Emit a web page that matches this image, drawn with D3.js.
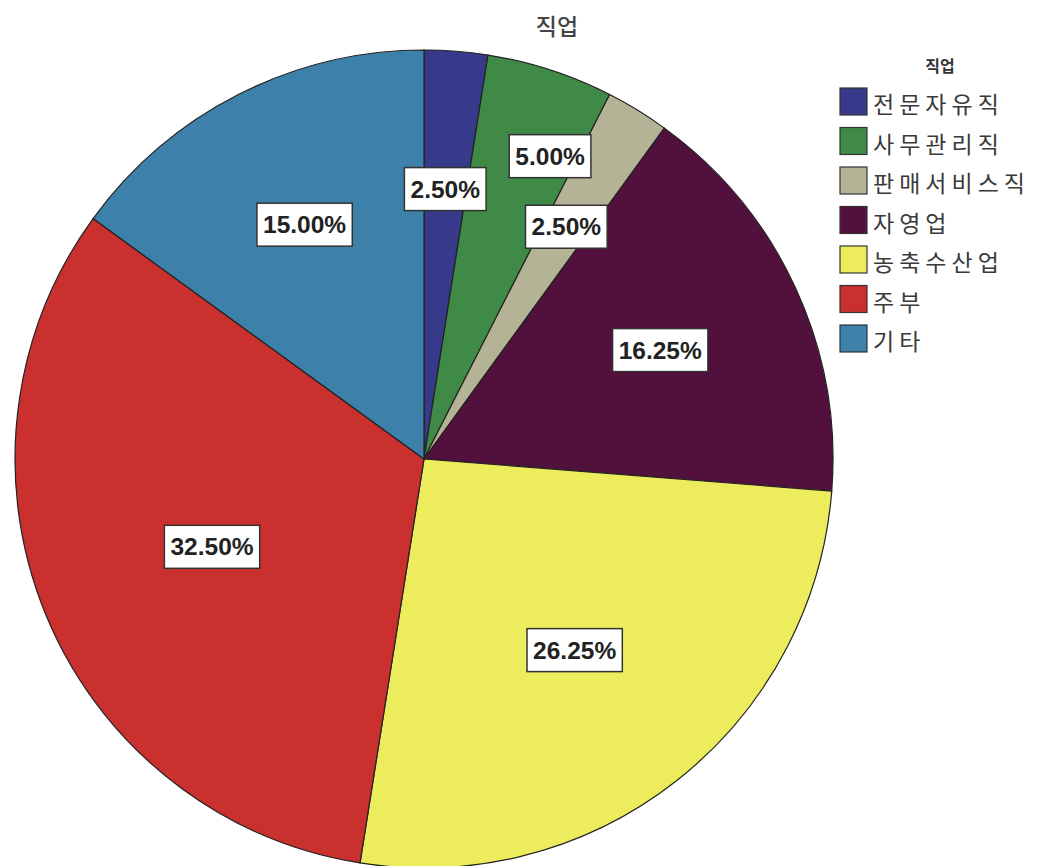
<!DOCTYPE html>
<html><head><meta charset="utf-8">
<script src="https://cdn.jsdelivr.net/npm/d3@7"></script>
<style>body{margin:0;background:#fff}svg{display:block}</style>
</head><body>
<svg id="c" width="1043" height="866"></svg>
<script>
const chartTitle = "직업";
const categories = ["전문자유직","사무관리직","판매서비스직","자영업","농축수산업","주부","기타"];
const values = [2.50, 5.00, 2.50, 16.25, 26.25, 32.50, 15.00];
const colors = ["#37398a","#3f8a46","#b4b396","#52103c","#ecec5c","#c9302e","#3d80a9"];

const svg = d3.select("#c");
const cx = 424, cy = 459, R = 409;

svg.append("text").attr("x",557).attr("y",35).attr("text-anchor","middle")
  .attr("font-family","'Noto Sans CJK KR',sans-serif").attr("font-size",23).attr("font-weight",500)
  .attr("fill","#444").text(chartTitle);

const pie = d3.pie().sort(null).value(d=>d)(values);
const arc = d3.arc().innerRadius(0).outerRadius(R);
const g = svg.append("g").attr("transform",`translate(${cx},${cy})`);
g.selectAll("path").data(pie).join("path")
  .attr("d",arc).attr("fill",(d,i)=>colors[i]).attr("stroke","#222").attr("stroke-width",1.2);

// label placement: radius fraction and angular offset (degrees)
const labRad = [0.662,0.802,0.666,0.636,0.595,0.561,0.643];
const labOff = [0,4.6,0,0,0,0,0];
const fmt = d3.format(".2f");
pie.forEach((d,i)=>{
  const a = (d.startAngle+d.endAngle)/2 + labOff[i]*Math.PI/180;
  const r = labRad[i]*R;
  const x = Math.sin(a)*r, y = -Math.cos(a)*r;
  const lg = g.append("g").attr("transform",`translate(${x},${y})`);
  const t = lg.append("text").attr("text-anchor","middle").attr("dominant-baseline","central")
    .attr("font-family","'Liberation Sans',Arial,sans-serif").attr("font-weight","bold")
    .attr("font-size",24.5).attr("fill","#222").text(fmt(values[i])+"%");
  const bb = t.node().getBBox();
  const w = bb.width+12, h = 43;
  lg.insert("rect","text").attr("x",-w/2).attr("y",-h/2).attr("width",w).attr("height",h)
    .attr("fill","#fff").attr("stroke","#333").attr("stroke-width",1.5);
});

// legend
const leg = svg.append("g");
leg.append("text").attr("x",940).attr("y",72).attr("text-anchor","middle")
  .attr("font-family","'Noto Sans CJK KR',sans-serif").attr("font-weight","bold")
  .attr("font-size",16).attr("fill","#333").text(chartTitle);
categories.forEach((c,i)=>{
  const y = 88 + i*39.5;
  leg.append("rect").attr("x",840).attr("y",y).attr("width",27).attr("height",27)
    .attr("fill",colors[i]).attr("stroke","#333").attr("stroke-width",1.2);
  leg.append("text").attr("x",873).attr("y",y+15).attr("dominant-baseline","central")
    .attr("font-family","'Noto Sans CJK KR',sans-serif").attr("font-size",23)
    .attr("letter-spacing",5).attr("fill","#3a3a3a").text(c);
});
</script>
</body></html>
